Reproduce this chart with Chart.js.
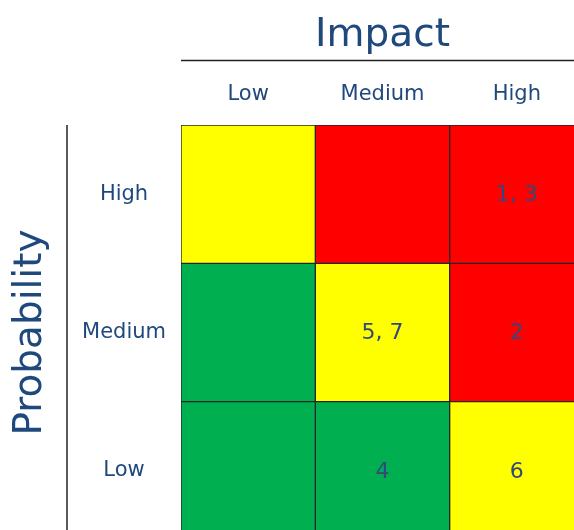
<!DOCTYPE html>
<html>
<head>
<meta charset="utf-8">
<script src="https://cdn.jsdelivr.net/npm/chart.js@4"></script>
<style>
  html, body { margin: 0; padding: 0; background: #fff; overflow: hidden; }
  #wrap { width: 584px; height: 540px; }
</style>
</head>
<body>
<div id="wrap"><canvas id="riskChart" width="584" height="540"></canvas></div>
<script>
// impact columns and probability rows
const impactLevels = ['Low', 'Medium', 'High'];
const probabilityLevels = ['Low', 'Medium', 'High'];

// cell colours per row, one entry per impact column
const lowRowColors = ['#00b050', '#00b050', '#ffff00'];
const mediumRowColors = ['#00b050', '#ffff00', '#ff0000'];
const highRowColors = ['#ffff00', '#ff0000', '#ff0000'];

// risk ids placed in each cell
const lowRowRisks = ['', '4', '6'];
const mediumRowRisks = ['', '5, 7', '2'];
const highRowRisks = ['', '', '1, 3'];

const textColor = '#1f497d';

function rowDataset(rowIndex, colors, risks) {
    return {
        label: probabilityLevels[rowIndex],
        data: impactLevels.map(() => [rowIndex, rowIndex + 1]),
        risks: risks,
        backgroundColor: colors,
        borderColor: '#262626',
        borderWidth: 1,
        borderSkipped: false,
        grouped: false,
        categoryPercentage: 1,
        barPercentage: 1
    };
}

const cellLabels = {
    id: 'cellLabels',
    afterDatasetsDraw(chart) {
        const ctx = chart.ctx;
        ctx.save();
        ctx.font = '22px "DejaVu Sans"';
        ctx.fillStyle = '#31497a';
        ctx.textAlign = 'center';
        ctx.textBaseline = 'middle';
        chart.data.datasets.forEach((ds, i) => {
            chart.getDatasetMeta(i).data.forEach((bar, j) => {
                const text = ds.risks[j];
                if (text) ctx.fillText(text, bar.x, (bar.y + bar.base) / 2 + 1);
            });
        });
        ctx.restore();
    }
};

const axisLines = {
    id: 'axisLines',
    afterDraw(chart) {
        const ctx = chart.ctx;
        const area = chart.chartArea;
        ctx.save();
        // rule under the Impact title
        ctx.strokeStyle = '#222';
        ctx.lineWidth = 1.5;
        ctx.beginPath();
        ctx.moveTo(area.left, 60.5);
        ctx.lineTo(chart.width, 60.5);
        ctx.stroke();
        // rule right of the Probability title
        ctx.strokeStyle = '#5a5a5a';
        ctx.lineWidth = 2;
        ctx.beginPath();
        ctx.moveTo(67, area.top);
        ctx.lineTo(67, chart.height);
        ctx.stroke();
        ctx.restore();
    }
};

new Chart(document.getElementById('riskChart'), {
    type: 'bar',
    data: {
        labels: impactLevels,
        datasets: [
            rowDataset(0, lowRowColors, lowRowRisks),
            rowDataset(1, mediumRowColors, mediumRowRisks),
            rowDataset(2, highRowColors, highRowRisks)
        ]
    },
    options: {
        responsive: false,
        animation: false,
        layout: { padding: 0 },
        plugins: {
            legend: { display: false },
            tooltip: { enabled: false }
        },
        scales: {
            x: {
                position: 'top',
                grid: { display: false, drawTicks: false },
                border: { display: false },
                ticks: {
                    color: textColor,
                    font: { family: 'DejaVu Sans', size: 21 },
                    padding: 18
                },
                title: {
                    display: true,
                    text: 'Impact',
                    color: textColor,
                    font: { family: 'DejaVu Sans', size: 39 },
                    padding: { top: 12, bottom: 0 }
                },
                afterFit(scale) {
                    scale.height = 125;
                    scale.paddingLeft = 0;
                    scale.paddingRight = 0;
                }
            },
            y: {
                min: 0,
                max: 3,
                grid: { display: false, drawTicks: false },
                border: { display: false },
                afterBuildTicks(scale) {
                    scale.ticks = probabilityLevels.map((_, i) => ({ value: i + 0.5 }));
                },
                ticks: {
                    color: textColor,
                    font: { family: 'DejaVu Sans', size: 21 },
                    crossAlign: 'center',
                    padding: 15,
                    callback: (value) => probabilityLevels[Math.floor(value)]
                },
                title: {
                    display: true,
                    text: 'Probability',
                    color: textColor,
                    font: { family: 'DejaVu Sans', size: 39 },
                    padding: { top: 7, bottom: 0 }
                },
                afterFit(scale) {
                    scale.width = 181;
                    scale.paddingTop = 0;
                    scale.paddingBottom = 0;
                }
            }
        }
    },
    plugins: [cellLabels, axisLines]
});
</script>
</body>
</html>
